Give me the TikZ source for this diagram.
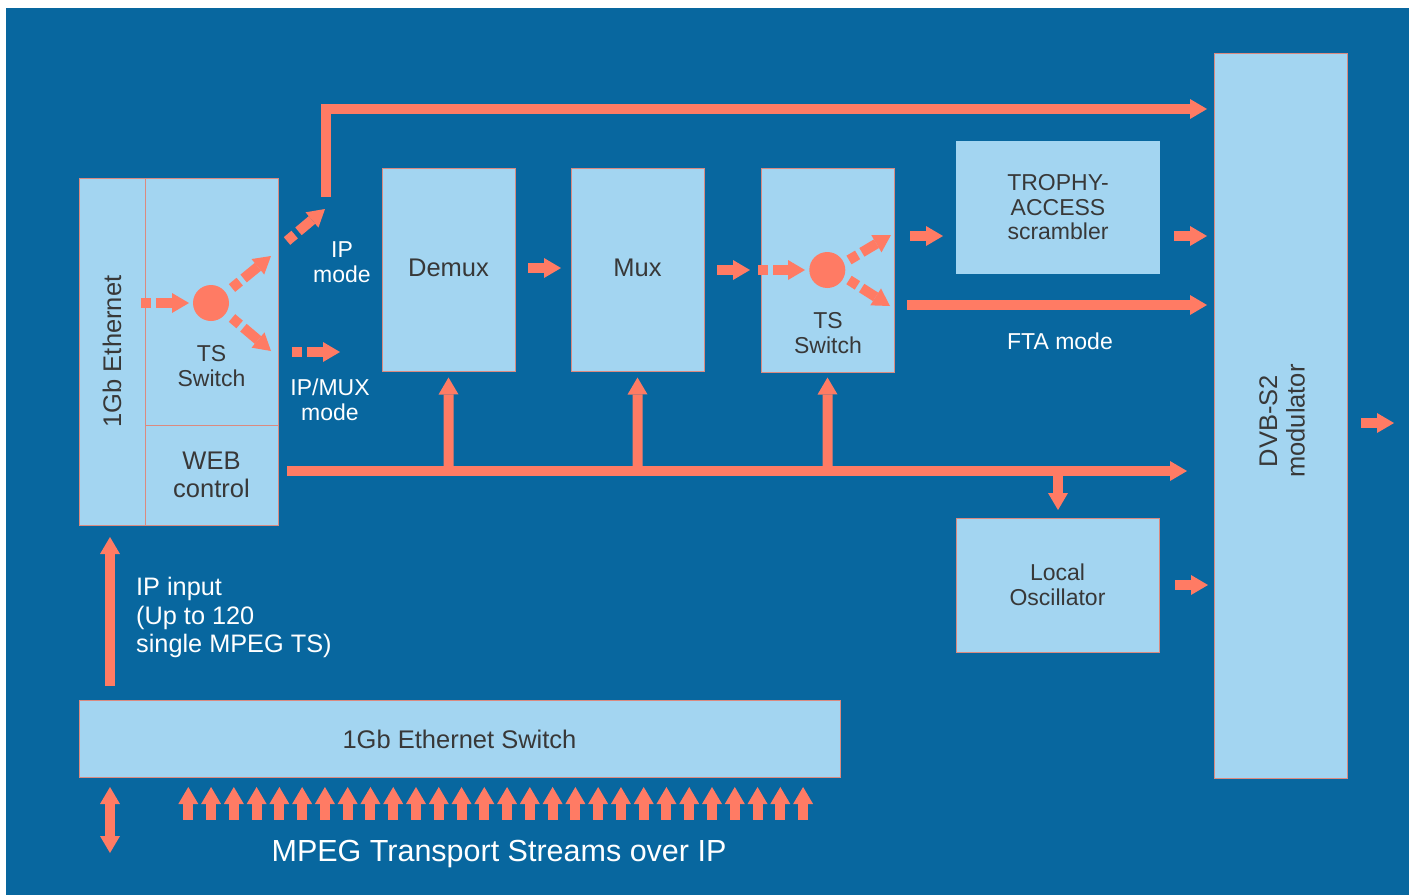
\documentclass[tikz,border=0pt]{standalone}
\usepackage{fontspec}
\setmainfont{Liberation Sans}
\usetikzlibrary{arrows.meta,calc}
\definecolor{bg}{HTML}{08679F}
\definecolor{lb}{HTML}{A3D5F1}
\definecolor{sal}{HTML}{FF7B64}
\definecolor{edge}{HTML}{DB8A80}
\definecolor{txt}{HTML}{383838}
\begin{document}
\begin{tikzpicture}[x=1pt,y=-1pt,
  bigf/.style={font=\fontsize{25.5}{27.5}\selectfont},
  midf/.style={font=\fontsize{23}{24.5}\selectfont},
  box/.style={draw=edge,line width=1pt,fill=lb,inner sep=0pt,text=txt,align=center,bigf},
  lbl/.style={text=txt,align=center,midf,inner sep=0pt},
  wlbl/.style={text=white,align=center,midf,inner sep=0pt},
  fat/.style={draw=sal,line width=10pt,-{Triangle[width=20pt,length=17pt,line width=0pt,fill=sal]}},
  twofat/.style={draw=sal,line width=10pt,{Triangle[width=20pt,length=17pt,line width=0pt,fill=sal]}-{Triangle[width=20pt,length=17pt,line width=0pt,fill=sal]}},
  dfat/.style={fat,dash pattern=on 10pt off 5pt on 300pt off 1pt},
  dot/.style={circle,fill=sal,minimum size=36pt,inner sep=0pt}]
\useasboundingbox (0,0) rectangle (1409,895);
\fill[white] (0,0) rectangle (1409,895);
\fill[bg] (6,8) rectangle (1409,895);

% boxes
\node[box,rotate=90,minimum width=347pt,minimum height=66pt] (eth) at (112,351.5) {1Gb Ethernet};
\node[box,minimum width=133pt,minimum height=247pt] (ts1) at (211.5,301.5) {};
\node[lbl] (ts1l) at (211.5,366) {TS\\Switch};
\node[box,minimum width=133pt,minimum height=100pt] (web) at (211.5,475) {WEB\\control};
\node[dot] (c1) at (211,303) {};

\node[box,minimum width=133pt,minimum height=203pt] (demux) at (448.5,269.5) {};
\node[lbl,bigf] (demuxl) at (448.5,268) {Demux};
\node[box,minimum width=133pt,minimum height=203pt] (mux) at (637.5,269.5) {};
\node[lbl,bigf] (muxl) at (637.5,267.5) {Mux};
\node[box,minimum width=133pt,minimum height=204pt] (ts2) at (827.5,270) {};
\node[lbl] (ts2l) at (828,333) {TS\\Switch};
\node[dot] (c2) at (827.3,270) {};

\node[box,midf,draw=none,minimum width=204pt,minimum height=133pt] (tro) at (1058,207.5) {TROPHY-\\ACCESS\\scrambler};
\node[box,midf,minimum width=203pt,minimum height=134pt] (lo) at (1057.5,585) {Local\\Oscillator};
\node[box,rotate=90,minimum width=725pt,minimum height=133pt] (dvb) at (1280.5,415.5) {};
\node[lbl,bigf,rotate=90] (dvbl) at (1282,421) {DVB-S2\\modulator};
\node[box,minimum width=761pt,minimum height=77pt] (esw) at (459.5,739) {1Gb Ethernet Switch};

% white labels
\node[wlbl] (ipm) at (342,262) {IP\\mode};
\node[wlbl] (ipmux) at (330,400) {IP/MUX\\mode};
\node[wlbl] (fta) at (1060,341) {FTA mode};
\node[text=white,align=left,anchor=west,inner sep=0pt,font=\fontsize{25.3}{28.3}\selectfont] (ipin) at (136,617.5) {IP input\\(Up to 120\\single MPEG TS)};
\node[text=white,inner sep=0pt,font=\fontsize{30.5}{34}\selectfont] (mpeg) at (499,854.5) {MPEG Transport Streams over IP};

% coordinates
\coordinate (ipA) at (110,686); \coordinate (ipB) at (110,537);
\coordinate (dA) at (110,853); \coordinate (dB) at (110,787);
\coordinate (t1in) at (141,303); \coordinate (t1inE) at (189,303);
\coordinate (t1uA) at (232,288); \coordinate (t1uB) at (271,256);
\coordinate (t1lA) at (232,318); \coordinate (t1lB) at (271,351);
\coordinate (ipmA) at (287,241); \coordinate (ipmB) at (325,209);
\coordinate (mxA) at (292,352); \coordinate (mxB) at (340,352);
\coordinate (ipl0) at (326,197); \coordinate (ipl1) at (1207,109);
\coordinate (dmA) at (528,268); \coordinate (dmB) at (561,268);
\coordinate (mtA) at (717,270); \coordinate (mtB) at (750,270);
\coordinate (t2in) at (758,270); \coordinate (t2inE) at (805,270);
\coordinate (t2uA) at (849,260); \coordinate (t2uB) at (891,235);
\coordinate (t2lA) at (849,280); \coordinate (t2lB) at (890,306);
\coordinate (trA) at (910,236); \coordinate (trB) at (943,236);
\coordinate (toA) at (1174,236); \coordinate (toB) at (1207,236);
\coordinate (ftA) at (907,305); \coordinate (ftB) at (1207,305);
\coordinate (busA) at (287,471); \coordinate (busB) at (1187,471);
\coordinate (up1) at (448.7,471); \coordinate (up2) at (637.7,471); \coordinate (up3) at (827.7,471);
\coordinate (loA) at (1058,471); \coordinate (loB) at (1058,510);
\coordinate (looA) at (1175,585); \coordinate (looB) at (1208,585);
\coordinate (outA) at (1361,423); \coordinate (outB) at (1394,423);

% connectors
\draw[fat] (ipA) -- (ipB);
\draw[twofat] (dA) -- (dB);
\foreach \i in {0,...,27}{
  \coordinate (ba\i) at ({188.3+22.77*\i},819.5);
  \coordinate (bb\i) at ({188.3+22.77*\i},787);
  \draw[fat] (ba\i) -- (bb\i);
}
\draw[dfat] (t1in) -- (t1inE);
\draw[dfat] (t1uA) -- (t1uB);
\draw[dfat] (t1lA) -- (t1lB);
\draw[dfat] (ipmA) -- (ipmB);
\draw[dfat] (mxA) -- (mxB);
\draw[fat,line join=miter] (ipl0) |- (ipl1);
\draw[fat] (dmA) -- (dmB);
\draw[fat] (mtA) -- (mtB);
\draw[dfat] (t2in) -- (t2inE);
\draw[dfat] (t2uA) -- (t2uB);
\draw[dfat] (t2lA) -- (t2lB);
\draw[fat] (trA) -- (trB);
\draw[fat] (toA) -- (toB);
\draw[fat] (ftA) -- (ftB);
\draw[fat] (busA) -- (busB);
\draw[fat] (up1) -- ($(demux.south)+(0,6)$);
\draw[fat] (up2) -- ($(mux.south)+(0,6)$);
\draw[fat] (up3) -- ($(ts2.south)+(0,5)$);
\draw[fat] (loA) -- (loB);
\draw[fat] (looA) -- (looB);
\draw[fat] (outA) -- (outB);
\end{tikzpicture}
\end{document}
